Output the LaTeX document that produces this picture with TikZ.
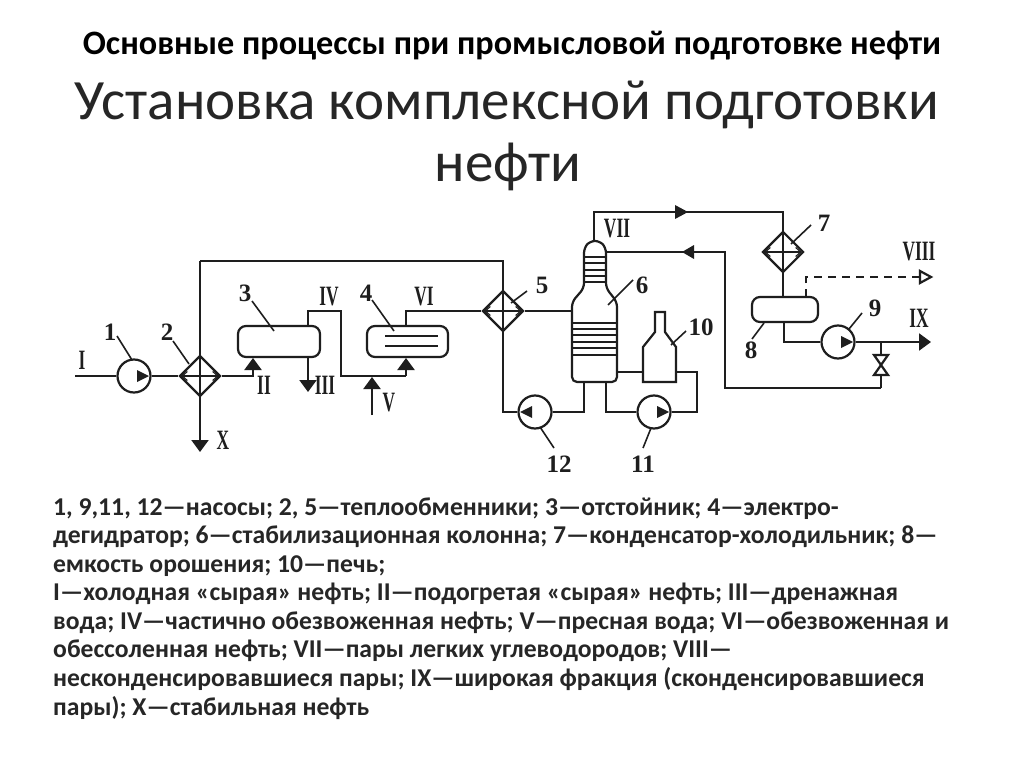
\documentclass[tikz,border=0pt]{standalone}
\usepackage{fontspec}
\setmainfont{Carlito}
\newfontfamily\lblf{Liberation Serif}
\usetikzlibrary{arrows.meta,shapes.geometric}
\definecolor{ink}{HTML}{1E1E1E}
\definecolor{txt}{HTML}{262626}
\tikzset{
  pipe/.style={draw=ink,line width=2.2pt},
  lead/.style={draw=ink,line width=1.6pt},
  headtip/.style={-{Triangle[length=12pt,width=17pt]}},
  pumpbody/.style={circle,draw=ink,line width=2.2pt,minimum size=33pt,inner sep=0pt,fill=white},
  vessel/.style={draw=ink,line width=2.2pt,rounded corners=8pt,fill=white},
  hxbody/.style={diamond,draw=ink,line width=2.2pt,minimum size=41pt,inner sep=0pt,fill=white},
  num/.style={font=\lblf\bfseries\fontsize{25}{25}\selectfont,text=ink,inner sep=0pt},
  rom/.style={font=\lblf\bfseries\fontsize{28}{28}\selectfont,text=ink,inner sep=0pt},
  legend/.style={font=\fontsize{25.65}{25.65}\selectfont\bfseries,text=txt,anchor=west,inner sep=0pt},
}
\newcommand{\rr}[1]{\scalebox{0.62}[1]{#1}}
\newcommand{\hxinner}[1]{%
  \draw[line width=1.2pt,draw=ink,{Straight Barb[length=5pt,width=9pt]}-{Straight Barb[length=5pt,width=9pt]}] ([xshift=3pt]#1.west) -- ([xshift=-3pt]#1.east);
  \draw[line width=1.6pt,draw=ink] (#1.north) -- (#1.south);}
\newcommand{\pumptip}[2]{\fill[ink] (#1) ++(#2*3,-6) -- ++(#2*12,6) -- ++(-#2*12,6) -- cycle;}
\begin{document}
\begin{tikzpicture}[x=1pt,y=-1pt]
\useasboundingbox (0,0) rectangle (1024,767);
\fill[white] (0,0) rectangle (1024,767);
% headings
\node[font=\bfseries\fontsize{34.2}{34.2}\selectfont,text=black,inner sep=0pt] (t1) at (512,46) {Основные процессы при промысловой подготовке нефти};
\node[font=\fontsize{57}{57}\selectfont,text=txt,inner sep=0pt] (t2) at (507,105) {Установка комплексной подготовки};
\node[font=\fontsize{57}{57}\selectfont,text=txt,inner sep=0pt] (t3) at (508,167) {нефти};
% equipment
\node[pumpbody] (p1) at (134,376) {};
\node[hxbody] (h2) at (200,376) {};
\node[vessel,minimum width=82pt,minimum height=31pt,inner sep=0pt] (v3) at (279,341.5) {};
\node[vessel,minimum width=81pt,minimum height=31pt,inner sep=0pt] (v4) at (407.5,341.5) {};
\node[hxbody] (h5) at (503,311) {};
\node[hxbody] (h7) at (783,252) {};
\node[vessel,minimum width=66pt,minimum height=25pt,inner sep=0pt] (v8) at (785,309.5) {};
\node[pumpbody] (p9) at (838,342) {};
\node[pumpbody] (p11) at (654,412) {};
\node[pumpbody] (p12) at (535,412) {};
% named points
\coordinate (in) at (75,376);
\coordinate (xend) at (200,452);
\coordinate (iiiend) at (308,392);
\coordinate (top2) at (200,261);
\coordinate (top5) at (503,261);
\coordinate (vbot) at (372,415);
\coordinate (vtip) at (372,377);
\coordinate (c6l) at (572,311);
\coordinate (ix) at (931,342);
\coordinate (vlvT) at (881,342);
\coordinate (vlvB) at (881,388);
\coordinate (c6b1) at (584,382);
\coordinate (c6b2) at (606,382);
\coordinate (c6t) at (594,241);
\coordinate (c6r) at (606,252);
\coordinate (f10l) at (643,372);
\coordinate (f10r) at (676,372);
\coordinate (c6rb) at (617,372);
% pipes
\draw[pipe] (in) -- (p1.west);
\draw[pipe] (p1.east) -- (h2.west);
\draw[pipe] (top2) -- (h2.north);
\draw[pipe,headtip] (h2.south) -- (xend);
\draw[pipe] (top2) -- (top5) -- (h5.north);
\draw[pipe,headtip] (h2.east) -| (253,358);
\draw[pipe,headtip] (308,357) -- (iiiend);
\draw[pipe] (308,326) |- (341,311) |- (406,376);
\draw[pipe,headtip] (406,376) -- (406,358);
\draw[pipe,headtip] (vbot) -- (vtip);
\draw[pipe] (406,326) |- (h5.west);
\draw[pipe] (h5.east) -- (c6l);
\draw[pipe] (h5.south) |- (p12.west);
\draw[pipe] (p12.east) -| (c6b1);
\draw[pipe] (c6b2) |- (p11.west);
\draw[pipe] (p11.east) -| (697,372) -- (f10r);
\draw[pipe] (c6rb) -- (f10l);
\draw[pipe] (c6t) |- (783,212) -- (h7.north);
\draw[pipe] (h7.south) -- (783,297);
\fill[ink] (675,205) -- (688,212) -- (675,219) -- cycle;
\draw[pipe] (c6r) -- (725,252) -- (725,388) -- (vlvB);
\fill[ink] (694,245) -- (682,252) -- (694,259) -- cycle;
\draw[pipe] (vlvB) -- (881,375);
\draw[pipe] (881,355) -- (vlvT);
\draw[pipe,headtip] (p9.east) -- (ix);
\draw[pipe] (784,322) |- (p9.west);
\draw[pipe,dash pattern=on 8pt off 6pt] (806,297) |- (920,277);
\draw[pipe,fill=white] (920,271) -- (931,277) -- (920,283) -- cycle;
% valve
\draw[pipe,fill=white] (874,355) -- (888,355) -- (874,375) -- (888,375) -- cycle;
% column 6
\draw[pipe,rounded corners=5pt] (584,288) -- (584,248) -- (590,241) -- (600,241) -- (606,248) -- (606,288) -- (617,302) -- (617,382) -- (572,382) -- (572,302) -- cycle;
\foreach \yy in {257,263,270,276,282} \draw[line width=1.6pt,draw=ink] (584,\yy) -- (606,\yy);
\foreach \yy in {323,329,335,342,348,355} \draw[line width=1.6pt,draw=ink] (572,\yy) -- (617,\yy);
% furnace 10
\draw[pipe] (643,382) -- (643,347) -- (655,332) -- (655,312) -- (665,312) -- (665,332) -- (676,347) -- (676,382) -- cycle;
% internals
\draw[line width=1.6pt,draw=ink] (385,336) -- (438,336) (385,346) -- (438,346);
\hxinner{h2}\hxinner{h5}\hxinner{h7}
\pumptip{p1}{1}\pumptip{p9}{1}\pumptip{p11}{1}\pumptip{p12}{-1}
% leaders
\draw[lead] (117,336) -- (132,360);
\draw[lead] (173,341) -- (189,364);
\draw[lead] (252,301) -- (274,331);
\draw[lead] (372,300) -- (394,331);
\draw[lead] (511,303) -- (527,291);
\draw[lead] (608,305) -- (633,280);
\draw[lead] (671,345) -- (686,331);
\draw[lead] (791,244) -- (811,225);
\draw[lead] (764,323) -- (752,339);
\draw[lead] (849,329) -- (862,313);
\draw[lead] (540,427) -- (554,448);
\draw[lead] (651,428) -- (643,448);
% numbers
\node[num] (n1) at (110,332) {1};
\node[num] (n2) at (167,332) {2};
\node[num] (n3) at (245,293) {3};
\node[num] (n4) at (366,293) {4};
\node[num] (n5) at (542,285) {5};
\node[num] (n6) at (642,285) {6};
\node[num] (n7) at (824,223) {7};
\node[num] (n8) at (751,350) {8};
\node[num] (n9) at (875,308) {9};
\node[num] (n10) at (701,327) {10};
\node[num] (n11) at (643,464) {11};
\node[num] (n12) at (559,464) {12};
% roman
\node[rom] (rI) at (82,360) {\rr{I}};
\node[rom] (rII) at (264,385) {\rr{II}};
\node[rom] (rIII) at (325,385) {\rr{III}};
\node[rom] (rIV) at (329,297) {\rr{IV}};
\node[rom] (rV) at (389,403) {\rr{V}};
\node[rom] (rVI) at (424,297) {\rr{VI}};
\node[rom] (rVII) at (617,229) {\rr{VII}};
\node[rom] (rVIII) at (919,252) {\rr{VIII}};
\node[rom] (rIX) at (919,318) {\rr{IX}};
\node[rom] (rX) at (223,440) {\rr{X}};
% legend
\node[legend] (l1) at (53,509) {1, 9,11, 12—насосы; 2, 5—теплообменники; 3—отстойник; 4—электро-};
\node[legend] (l2) at (53,537) {дегидратор; 6—стабилизационная колонна; 7—конденсатор-холодильник; 8—};
\node[legend] (l3) at (53,566) {емкость орошения; 10—печь;};
\node[legend] (l4) at (53,594) {I—холодная «сырая» нефть; II—подогретая «сырая» нефть; III—дренажная};
\node[legend] (l5) at (53,623) {вода; IV—частично обезвоженная нефть; V—пресная вода; VI—обезвоженная и};
\node[legend] (l6) at (53,651) {обессоленная нефть; VII—пары легких углеводородов; VIII—};
\node[legend] (l7) at (53,679) {несконденсировавшиеся пары; IX—широкая фракция (сконденсировавшиеся};
\node[legend] (l8) at (53,708) {пары); X—стабильная нефть};
\end{tikzpicture}
\end{document}
